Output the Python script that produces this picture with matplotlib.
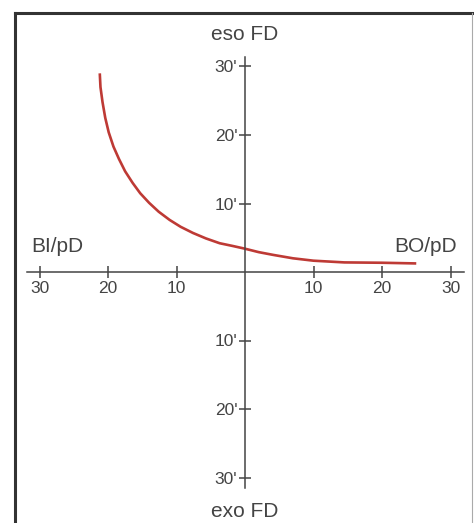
import matplotlib
matplotlib.use("Agg")
import matplotlib.pyplot as plt
from matplotlib.lines import Line2D

plt.rcParams['font.family'] = ['Liberation Sans', 'DejaVu Sans']

# curve (prism dioptres vs fixation disparity, arcmin)
curve_x = [-21.2, -21.1, -20.8, -20.4, -19.9, -19.2, -18.4, -17.5, -16.4, -15.3,
           -14.0, -12.6, -11.0, -9.4, -7.6, -5.7, -3.7, -1.8, 0.0, 2.0,
           4.1, 7.0, 10.0, 14.5, 20.0, 25.0]
curve_y = [29.0, 27.0, 24.8, 22.5, 20.4, 18.3, 16.5, 14.7, 13.0, 11.5,
           10.1, 8.8, 7.6, 6.6, 5.7, 4.9, 4.2, 3.8, 3.4, 2.9,
           2.5, 2.0, 1.65, 1.4, 1.35, 1.25]

x_ticks = [-30, -20, -10, 10, 20, 30]
x_tick_labels = ['30', '20', '10', '10', '20', '30']
y_ticks = [-30, -20, -10, 10, 20, 30]
y_tick_labels = ["30'", "20'", "10'", "10'", "20'", "30'"]

W, H = 474, 523
scale = 6.85          # pixels per unit
cx, cy = 245, 272     # origin in pixels (from top left)

fig = plt.figure(figsize=(W / 100, H / 100), dpi=100)
ax = fig.add_axes([0, 0, 1, 1])
ax.set_xlim(-cx / scale, (W - cx) / scale)
ax.set_ylim(-(H - cy) / scale, cy / scale)
ax.patch.set_alpha(0)

ink = '#444444'
for s in ['top', 'right']:
    ax.spines[s].set_visible(False)
ax.spines['left'].set_position(('data', 0))
ax.spines['bottom'].set_position(('data', 0))
ax.spines['left'].set_bounds(-31.5, 31.4)
ax.spines['bottom'].set_bounds(-31.8, 32.0)
for s in ['left', 'bottom']:
    ax.spines[s].set_color(ink)
    ax.spines[s].set_linewidth(1.1)

ax.set_xticks(x_ticks)
ax.set_xticklabels(x_tick_labels)
ax.set_yticks(y_ticks)
ax.set_yticklabels(y_tick_labels)
ax.tick_params(direction='inout', length=9, width=1.1, color=ink,
               labelcolor=ink, labelsize=12.5)
ax.tick_params(axis='x', pad=2)
ax.tick_params(axis='y', pad=1)

ax.plot(curve_x, curve_y, color='#be3a35', lw=1.9, solid_capstyle='butt')

txt = dict(color=ink, fontsize=15)
ax.text(0, (cy - 40) / scale, 'eso FD', ha='center', va='baseline', **txt)
ax.text(0, (cy - 517) / scale, 'exo FD', ha='center', va='baseline', **txt)
ax.text((31 - cx) / scale, (cy - 252) / scale, 'BI/pD', ha='left', va='baseline', **txt)
ax.text((457 - cx) / scale, (cy - 252) / scale, 'BO/pD', ha='right', va='baseline', **txt)

# picture frame
fig.add_artist(Line2D([15 / W, 15 / W], [0, 1 - 13 / H], color='#333333', lw=2.2))
fig.add_artist(Line2D([15 / W, 472 / W], [1 - 13 / H, 1 - 13 / H], color='#333333', lw=2.2))
fig.add_artist(Line2D([472 / W, 472 / W], [0, 1 - 13 / H], color='#aaaaaa', lw=0.8))

fig.savefig('out.png', dpi=100)
